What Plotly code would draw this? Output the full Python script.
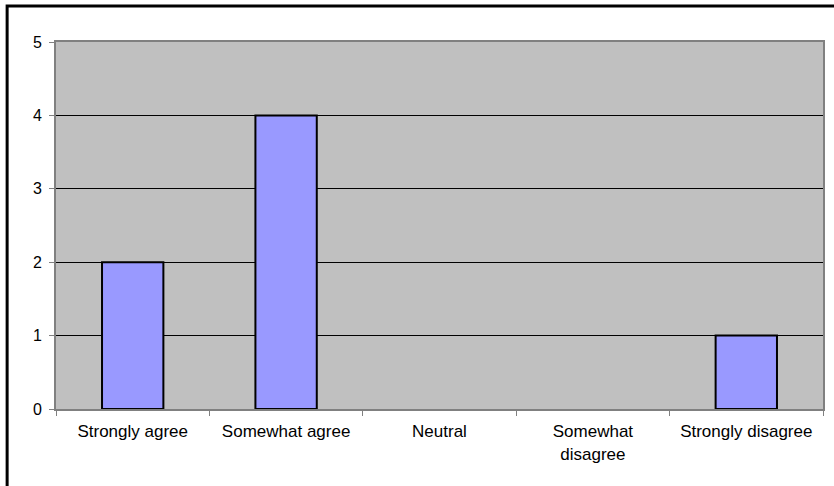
import plotly.graph_objects as go

# Survey responses per answer choice
categories = ["Strongly agree", "Somewhat agree", "Neutral",
              "Somewhat<br>disagree", "Strongly disagree"]
counts = [2, 4, 0, 0, 1]
y_ticks = [0, 1, 2, 3, 4, 5]

W, H = 834, 486
ml, mr, mt, mb = 56, 9, 42, 77
pw, ph = W - ml - mr, H - mt - mb

# Empty categories get no outline so nothing shows on the baseline
outline_widths = [2 if c > 0 else 0 for c in counts]

fig = go.Figure(
    go.Bar(
        x=categories,
        y=counts,
        marker=dict(color="#9999FF",
                    line=dict(color="#000000", width=outline_widths)),
    )
)

# Outer chart frame, placed in pixel terms and converted to paper coords
def px_x(p):
    return (p - ml) / pw

def px_y(p):
    return (H - mb - p) / ph

fig.add_shape(
    type="rect", xref="paper", yref="paper",
    x0=px_x(7), x1=px_x(845), y0=px_y(6), y1=px_y(500),
    line=dict(color="#000000", width=3), fillcolor="rgba(0,0,0,0)",
    layer="below",
)

fig.update_layout(
    width=W, height=H,
    margin=dict(l=ml, r=mr, t=mt, b=mb),
    paper_bgcolor="#FFFFFF",
    plot_bgcolor="#C0C0C0",
    bargap=0.6,
    showlegend=False,
    font=dict(family="Liberation Sans, Arial, sans-serif", size=16, color="#000000"),
)

fig.update_xaxes(
    type="category",
    showgrid=False,
    showline=True, linecolor="#808080", linewidth=2, mirror=True,
    ticks="outside", tickson="boundaries", ticklen=5, tickcolor="#808080",
    tickfont=dict(size=17),
    ticklabelstandoff=6,
)

fig.update_yaxes(
    range=[0, 5],
    tickvals=y_ticks,
    showgrid=True, gridcolor="#000000", gridwidth=1,
    showline=True, linecolor="#808080", linewidth=2, mirror=True,
    ticks="outside", ticklen=5, tickcolor="#808080",
    tickfont=dict(size=16),
    ticklabelstandoff=4,
    zeroline=False,
)

fig.write_html("out.html")
